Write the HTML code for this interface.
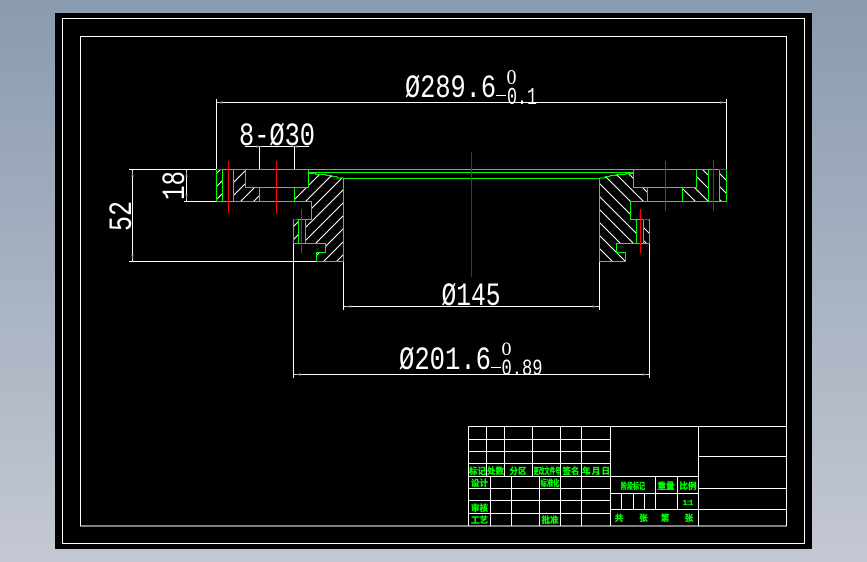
<!DOCTYPE html>
<html>
<head>
<meta charset="utf-8">
<style>
html,body{margin:0;padding:0;width:867px;height:562px;overflow:hidden;background:linear-gradient(#8a9bb0,#c4c8d2);}
svg{position:absolute;left:0;top:0;display:block;}
.w{fill:#fff;font-family:"Liberation Mono",monospace;}
.z{fill:#fff;font-family:"Liberation Serif",serif;}
.c{fill:#0f0;stroke:#0f0;stroke-width:.35px;font-family:"Liberation Sans","Noto Sans CJK SC",sans-serif;font-size:8.5px;font-weight:700;text-anchor:middle;}
</style>
</head>
<body>
<svg width="867" height="562" viewBox="0 0 867 562" xmlns="http://www.w3.org/2000/svg">
<defs>
<pattern id="hl" patternUnits="userSpaceOnUse" width="13" height="13"><path d="M-1 14L14 -1M-1 1L1 -1M12 14L14 12" stroke="#fff" stroke-width="1" fill="none" shape-rendering="crispEdges"/></pattern>
<pattern id="hr" patternUnits="userSpaceOnUse" width="13" height="13"><path d="M-1 -1L14 14M12 -1L14 1M-1 12L1 14" stroke="#fff" stroke-width="1" fill="none" shape-rendering="crispEdges"/></pattern>
</defs>
<rect x="55" y="13" width="757" height="536" fill="#000"/>
<g fill="none" stroke="#fff" stroke-width="1" shape-rendering="crispEdges">
<rect x="62.5" y="18.5" width="742" height="525"/>
<rect x="80.5" y="36.5" width="706" height="489.5"/>
</g>

<!-- hatching -->
<g stroke="none">
<path fill="url(#hl)" d="M216 170H223V201H216Z"/>
<path fill="url(#hl)" d="M233 170H245V187H259V201H233Z"/>
<path fill="url(#hl)" d="M294 187H309V172L343 178V261H317V252H325V243H305V219H311V201H294Z"/>
<path fill="url(#hl)" d="M293 219H298V243H293Z"/>
<path fill="url(#hr)" d="M726 170H719V201H726Z"/>
<path fill="url(#hr)" d="M708 170H697V187H682V201H708Z"/>
<path fill="url(#hr)" d="M647 187H633V172L600 178V261H625V252H616V243H636V219H630V201H647Z"/>
<path fill="url(#hr)" d="M649 219H643V243H649Z"/>
</g>

<!-- white dimension lines -->
<g fill="none" stroke="#fff" stroke-width="1" shape-rendering="crispEdges">
<path d="M216.5 102.5H726.5M216.5 99V169M726.5 99V169"/>
<path d="M245 146.5H309M259.5 146V169M294.5 146V169"/>
<path d="M129 169.5H216M184 201.5H216M186.5 170V201M132.5 170V261M129 261.5H317"/>
<path d="M293.5 243V378M649.5 243V378M293.5 374.5H649.5"/>
<path d="M343.5 261V310M599.5 261V310M343.5 306.5H599.5"/>
</g>

<!-- arrowheads -->
<g fill="#aaa">
<path d="M216 102.5l7-1v2zM727 102.5l-7-1v2z"/>
<path d="M263 146.5l-7-1v2zM291 146.5l7-1v2z"/>
<path d="M186.5 170l-1 7h2zM186.5 201l-1-7h2z"/>
<path d="M132.5 170l-1 7h2zM132.5 261l-1-7h2z"/>
<path d="M344 306.5l7-1v2zM599 306.5l-7-1v2z"/>
<path d="M294 374.5l7-1v2zM649 374.5l-7-1v2z"/>
</g>

<!-- green outlines -->
<g fill="none" stroke="#0f0" stroke-width="1" shape-rendering="crispEdges">
<path d="M216.5 169.5H309M216.5 169.5V201.5H311.5V219.5H293.5V243.5H325.5V252.5H316.5V261.5H343.5V178.5H599.5V261.5H625.5V252.5H616.5V243.5H649.5V219.5H630.5V201.5H726.5V169.5H633.5"/>
<path d="M222.5 170V201M233.5 170V201M245.5 170V187.5H308.5V170M259.5 187V201M294.5 187V201"/>
<path d="M298.5 219V243M305.5 219V243"/>
<path d="M719.5 170V201M708.5 170V201M696.5 170V187.5H633.5V170M647.5 187V201M682.5 187V201"/>
<path d="M636.5 219V243M643.5 219V243"/>
<path d="M308.5 169.5H633.5M308.5 172.5H633.5"/>
<path d="M309 173.5H316V174.5H326V175.5H332V176.5H337V178H343.5" />
<path d="M633 173.5H626V174.5H616V175.5H610V176.5H605V178H599.5"/>
</g>

<!-- red lines -->
<g fill="none" stroke="#f00" stroke-width="1" shape-rendering="crispEdges">
<path d="M228.5 161V213M276.5 161V214M301.5 209V253"/>
<path d="M665.5 161V211M713.5 160V211M640.5 209V253"/>
<path d="M216 169.5H222M293 219.5H298M719 169.5H726M643 219.5H649"/>
</g>
<path d="M471.5 152V277" stroke="#c00" stroke-width="1" shape-rendering="crispEdges"/>

<!-- dimension texts -->
<text class="w" x="405" y="97" font-size="32" textLength="91" lengthAdjust="spacingAndGlyphs">Ø289.6</text>
<text class="z" x="506.5" y="84" font-size="21" textLength="10" lengthAdjust="spacingAndGlyphs">0</text>
<path d="M496 95.5H506" stroke="#fff" stroke-width="1"/>
<text class="w" x="507" y="104" font-size="24" textLength="30" lengthAdjust="spacingAndGlyphs">0.1</text>

<text class="w" x="239" y="145" font-size="32" textLength="76" lengthAdjust="spacingAndGlyphs">8-Ø30</text>
<text class="w" font-size="32" textLength="29" lengthAdjust="spacingAndGlyphs" transform="translate(184 200) rotate(-90)">18</text>
<text class="w" font-size="32" textLength="30" lengthAdjust="spacingAndGlyphs" transform="translate(131 231) rotate(-90)">52</text>

<text class="w" x="441.5" y="305" font-size="32" textLength="59" lengthAdjust="spacingAndGlyphs">Ø145</text>
<text class="w" x="399" y="369" font-size="32" textLength="92" lengthAdjust="spacingAndGlyphs">Ø201.6</text>
<text class="z" x="501.5" y="355" font-size="19" textLength="10" lengthAdjust="spacingAndGlyphs">0</text>
<path d="M491 367.5H501" stroke="#fff" stroke-width="1"/>
<text class="w" x="501.5" y="375" font-size="23" textLength="41" lengthAdjust="spacingAndGlyphs">0.89</text>

<!-- title block -->
<g fill="none" stroke="#fff" stroke-width="1" shape-rendering="crispEdges">
<path d="M468.5 426.5H786.5M468.5 426.5V526M468.5 439.5H610M468.5 451.5H610M468.5 463.5H610M468.5 476.5H698M468.5 488.5H610M468.5 500.5H610M468.5 513.5H610"/>
<path d="M486.5 426V476M504.5 426V476M532.5 426V476M560.5 426V526M581.5 426V526M610.5 426V526"/>
<path d="M490.5 476V526M511.5 476V526M539.5 476V526"/>
<path d="M698.5 426V526M698 456.5H786M698 488.5H786M610 509.5H786M610 493.5H698"/>
<path d="M655.5 476V509M677.5 476V509M621.5 493V509M633.5 493V509M644.5 493V509"/>
</g>

<g class="c">
<text x="477.5" y="474">标记</text>
<text x="495.5" y="474">处数</text>
<text x="518" y="474">分区</text>
<text x="547" y="474" textLength="27" lengthAdjust="spacingAndGlyphs">更改文件号</text>
<text x="571" y="474">签名</text>
<text x="596" y="474" textLength="28" lengthAdjust="spacing">年、月、日</text>
<text x="479.5" y="486">设计</text>
<text x="550" y="486" textLength="19" lengthAdjust="spacingAndGlyphs">标准化</text>
<text x="479.5" y="511">审核</text>
<text x="479.5" y="523">工艺</text>
<text x="550" y="523">批准</text>
<text x="633" y="489" textLength="24" lengthAdjust="spacingAndGlyphs">阶段标记</text>
<text x="666" y="489">重量</text>
<text x="688" y="489">比例</text>
<text x="688" y="505" font-size="7">1:1</text>
<text x="619" y="521">共</text>
<text x="643.5" y="521">张</text>
<text x="665" y="521">第</text>
<text x="689" y="521">张</text>
</g>
</svg>
</body>
</html>
